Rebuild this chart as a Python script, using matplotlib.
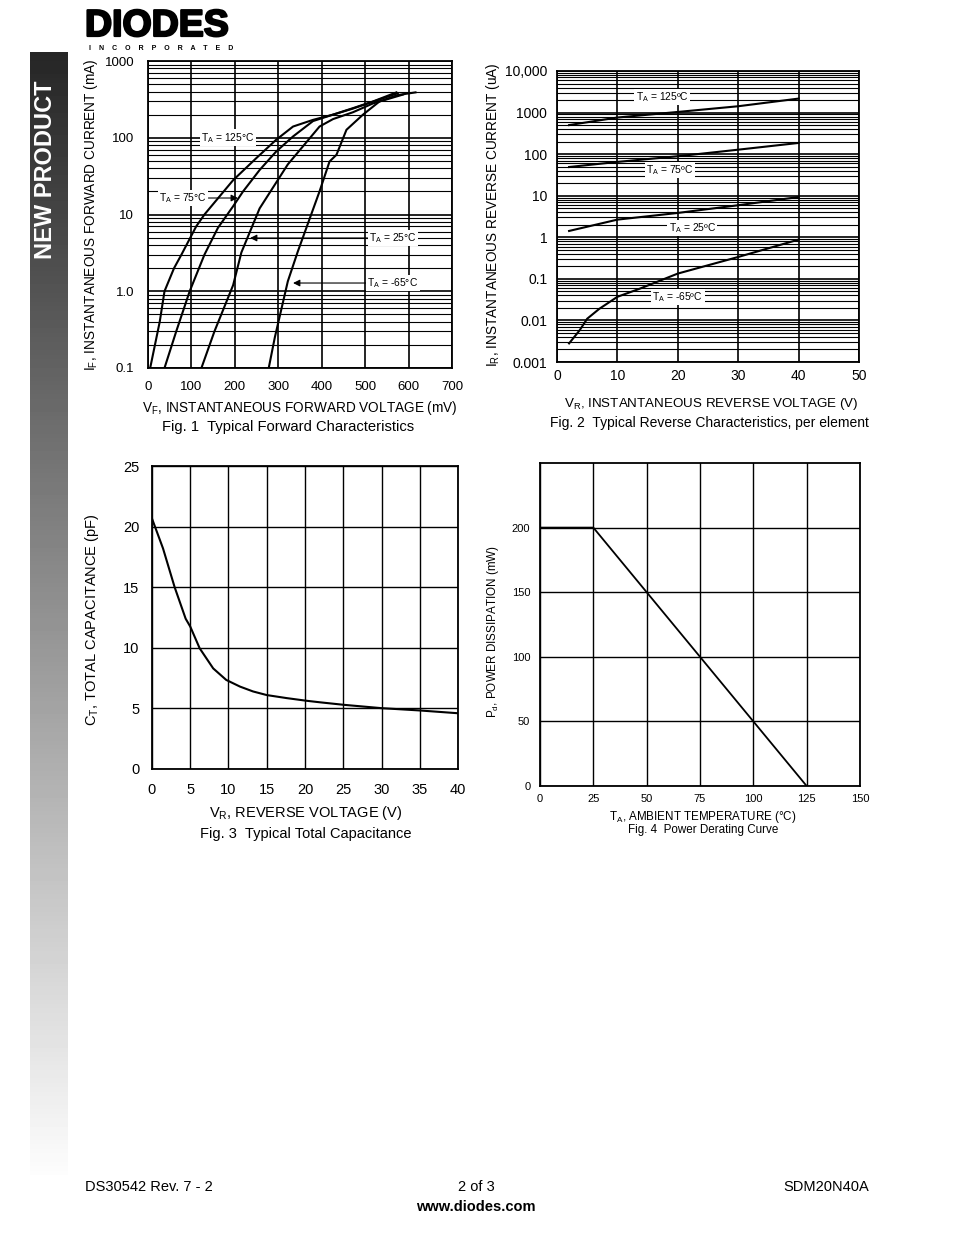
import numpy as np
import matplotlib.pyplot as plt
import matplotlib.patheffects as pe
from matplotlib.ticker import LogLocator, NullFormatter

plt.rcParams['font.family'] = ['Liberation Sans', 'DejaVu Sans']
plt.rcParams['mathtext.default'] = 'regular'

W, H = 954, 1235

# Fig. 1 forward characteristics (VF in mV, IF in mA)
vf_125 = [5, 27, 38, 60, 77, 111, 130, 196, 249, 295, 334, 380, 426, 472, 518, 572]
if_125 = [0.1, 0.4, 1.0, 2.0, 3.0, 7.0, 10, 28, 54, 94, 140, 171, 200, 243, 297, 390]
vf_75 = [38, 65, 96, 130, 161, 196, 219, 257, 295, 334, 380, 426, 472, 518, 575]
if_75 = [0.1, 0.3, 1.0, 3.0, 6.7, 12.8, 20, 38, 66, 104, 165, 200, 240, 295, 380]
vf_25 = [123, 153, 196, 215, 257, 322, 395, 426, 472, 518, 587]
if_25 = [0.1, 0.3, 1.2, 3.2, 12, 45, 140, 175, 215, 280, 365]
vf_m65 = [278, 292, 322, 345, 395, 418, 434, 457, 495, 533, 575, 616]
if_m65 = [0.1, 0.25, 1.35, 3.3, 20, 49, 60, 127, 200, 297, 360, 390]

# Fig. 2 reverse characteristics (VR in V, IR in uA)
vr_125 = [2, 10, 20, 30, 40]
ir_125 = [500, 760, 1035, 1420, 2170]
vr_75 = [2, 10, 20, 30, 40]
ir_75 = [49, 65, 89, 128, 186]
vr_25 = [2, 10, 20, 30, 40]
ir_25 = [1.42, 2.66, 3.85, 5.9, 9.3]
vr_m65 = [2, 3.75, 5, 7, 10, 13.7, 20, 30, 40]
ir_m65 = [0.0028, 0.0058, 0.011, 0.019, 0.037, 0.058, 0.134, 0.336, 0.88]

# Fig. 3 capacitance
vr_cap = [0, 1.44, 2.96, 4.4, 5, 6.23, 8, 9.7, 11.5, 13.2, 15, 17.6, 20.2, 22, 25, 30, 35, 40]
ct = [20.66, 18.2, 15.0, 12.4, 11.75, 9.96, 8.3, 7.35, 6.8, 6.4, 6.1, 5.85, 5.63, 5.5, 5.3, 5.02, 4.83, 4.6]

# Fig. 4 power derating
ta = [0, 25, 125]
pd_ = [200, 200, 0]

fig = plt.figure(figsize=(W / 100, H / 100), dpi=100)


def fx(x):
    return x / W


def fy(y):
    return 1 - y / H


def px_axes(l, t, r, b):
    return fig.add_axes([l / W, 1 - b / H, (r - l) / W, (b - t) / H])


# side bar with gradient
side = px_axes(30, 52, 68, 1175)
grad = np.linspace(0.15, 0.99, 256).reshape(-1, 1)
side.imshow(grad, cmap='gray', vmin=0, vmax=1, aspect='auto')
side.axis('off')
fig.text(fx(46), fy(170), 'NEW PRODUCT', rotation=90, color='white', fontsize=17,
         fontweight='bold', ha='center', va='center')

# logo
fig.text(fx(85), fy(36), 'DIODES', fontsize=27, fontweight='bold', ha='left', va='baseline',
         path_effects=[pe.withStroke(linewidth=1.6, foreground='black')])
fig.text(fx(161), fy(50), 'I    N    C    O    R    P    O    R    A    T    E    D', fontsize=5,
         fontweight='bold', ha='center', va='baseline')

lbl_box = dict(facecolor='white', edgecolor='none', pad=1)
lbl_fs = 7.4

# ---------- Fig 1
ax1 = px_axes(148, 61, 452, 368)
for v, i in [(vf_125, if_125), (vf_75, if_75), (vf_25, if_25), (vf_m65, if_m65)]:
    ax1.plot(v, i, color='black', lw=1.5, zorder=3)
ax1.set_yscale('log')
ax1.set_xlim(0, 700)
ax1.set_ylim(0.1, 1000)
ax1.set_xticks(np.arange(0, 701, 100))
ax1.set_yticks([0.1, 1, 10, 100, 1000])
ax1.set_yticklabels(['0.1', '1.0', '10', '100', '1000'])
ax1.yaxis.set_minor_locator(LogLocator(base=10, subs=np.arange(2, 10)))
ax1.yaxis.set_minor_formatter(NullFormatter())
ax1.grid(which='major', color='black', lw=1.2)
ax1.grid(which='minor', axis='y', color='black', lw=0.8)
ax1.tick_params(which='both', length=0, labelsize=9.5)
ax1.tick_params(axis='y', pad=10)
ax1.tick_params(axis='x', pad=9)
ax1.text(184, 100, 'T$_A$ = 125°C', fontsize=lbl_fs, ha='center', va='center', bbox=lbl_box, zorder=4)
arr = dict(arrowstyle='-|>', color='black', lw=0.8, shrinkA=0, shrinkB=0, mutation_scale=10)
ax1.annotate('T$_A$ = 75°C', xy=(207, 16.4), xytext=(81, 16.4), fontsize=lbl_fs, ha='center', va='center',
             bbox=lbl_box, arrowprops=arr, zorder=4)
ax1.annotate('T$_A$ = 25°C', xy=(235, 4.94), xytext=(564, 4.94), fontsize=lbl_fs, ha='center', va='center',
             bbox=lbl_box, arrowprops=arr, zorder=4)
ax1.annotate('T$_A$ = -65°C', xy=(334, 1.28), xytext=(564, 1.28), fontsize=lbl_fs, ha='center', va='center',
             bbox=lbl_box, arrowprops=arr, zorder=4)
fig.text(fx(91), fy(215), 'I$_F$, INSTANTANEOUS FORWARD CURRENT (mA)', rotation=90, fontsize=9.8,
         ha='center', va='center')
fig.text(fx(300), fy(408), 'V$_F$, INSTANTANEOUS FORWARD VOLTAGE (mV)', fontsize=9.8, ha='center', va='center')
fig.text(fx(288), fy(427), 'Fig. 1  Typical Forward Characteristics', fontsize=10.6, ha='center', va='center')

# ---------- Fig 2
ax2 = px_axes(557, 71, 859, 362)
for v, i in [(vr_125, ir_125), (vr_75, ir_75), (vr_25, ir_25), (vr_m65, ir_m65)]:
    ax2.plot(v, i, color='black', lw=1.5, zorder=3)
ax2.set_yscale('log')
ax2.set_xlim(0, 50)
ax2.set_ylim(0.001, 10000)
ax2.set_xticks(np.arange(0, 51, 10))
ax2.set_yticks([0.001, 0.01, 0.1, 1, 10, 100, 1000, 10000])
ax2.set_yticklabels(['0.001', '0.01', '0.1', '1', '10', '100', '1000', '10,000'])
ax2.yaxis.set_minor_locator(LogLocator(base=10, subs=np.arange(2, 10)))
ax2.yaxis.set_minor_formatter(NullFormatter())
ax2.grid(which='major', color='black', lw=1.2)
ax2.grid(which='minor', axis='y', color='black', lw=0.8)
ax2.tick_params(which='both', length=0, labelsize=10)
ax2.tick_params(axis='y', pad=7)
ax2.tick_params(axis='x', pad=5)
for x, y, t in [(17.4, 2370, '125'), (18.7, 41.5, '75'), (22.4, 1.67, '25'), (20.0, 0.0366, '-65')]:
    ax2.text(x, y, 'T$_A$ = ' + t + 'ºC', fontsize=lbl_fs, ha='center', va='center', bbox=lbl_box, zorder=4)
fig.text(fx(493), fy(215), 'I$_R$, INSTANTANEOUS REVERSE CURRENT (uA)', rotation=90, fontsize=9.8,
         ha='center', va='center')
fig.text(fx(711), fy(404), 'V$_R$, INSTANTANEOUS REVERSE VOLTAGE (V)', fontsize=9.6, ha='center', va='center')
fig.text(fx(709), fy(423), 'Fig. 2  Typical Reverse Characteristics, per element', fontsize=10,
         ha='center', va='center')

# ---------- Fig 3
ax3 = px_axes(152, 466, 458, 769)
ax3.plot(vr_cap, ct, color='black', lw=1.5, zorder=3)
ax3.set_xlim(0, 40)
ax3.set_ylim(0, 25)
ax3.set_xticks(np.arange(0, 41, 5))
ax3.set_yticks(np.arange(0, 26, 5))
ax3.grid(color='black', lw=1.0)
ax3.tick_params(length=0, labelsize=10.5)
ax3.tick_params(axis='y', pad=9)
ax3.tick_params(axis='x', pad=10)
fig.text(fx(92), fy(620), 'C$_T$, TOTAL CAPACITANCE (pF)', rotation=90, fontsize=10.5, ha='center', va='center')
fig.text(fx(306), fy(813), 'V$_R$, REVERSE VOLTAGE (V)', fontsize=10.5, ha='center', va='center')
fig.text(fx(306), fy(834), 'Fig. 3  Typical Total Capacitance', fontsize=10.5, ha='center', va='center')

# ---------- Fig 4
ax4 = px_axes(540, 463, 860, 786)
ax4.plot(ta, pd_, color='black', lw=1.3, zorder=3)
ax4.set_xlim(0, 150)
ax4.set_ylim(0, 250)
ax4.set_xticks(np.arange(0, 151, 25))
ax4.set_yticks(np.arange(0, 201, 50))
ax4.grid(color='black', lw=1.0)
ax4.tick_params(length=0, labelsize=8)
ax4.tick_params(axis='y', pad=7)
ax4.tick_params(axis='x', pad=6)
fig.text(fx(493), fy(632), 'P$_d$, POWER DISSIPATION (mW)', rotation=90, fontsize=8.4, ha='center', va='center')
fig.text(fx(703), fy(817), 'T$_A$, AMBIENT TEMPERATURE (°C)', fontsize=8.4, ha='center', va='center')
fig.text(fx(703), fy(830), 'Fig. 4  Power Derating Curve', fontsize=8.4, ha='center', va='center')

for ax in (ax1, ax2, ax3, ax4):
    for s in ax.spines.values():
        s.set_linewidth(1.3)

# footer
fig.text(fx(85), fy(1187), 'DS30542 Rev. 7 - 2', fontsize=10.5, ha='left', va='center')
fig.text(fx(476), fy(1187), '2 of 3', fontsize=10.5, ha='center', va='center')
fig.text(fx(869), fy(1187), 'SDM20N40A', fontsize=10.5, ha='right', va='center')
fig.text(fx(476), fy(1207), 'www.diodes.com', fontsize=10.5, fontweight='bold', ha='center', va='center')

fig.savefig('out.png', dpi=100)
